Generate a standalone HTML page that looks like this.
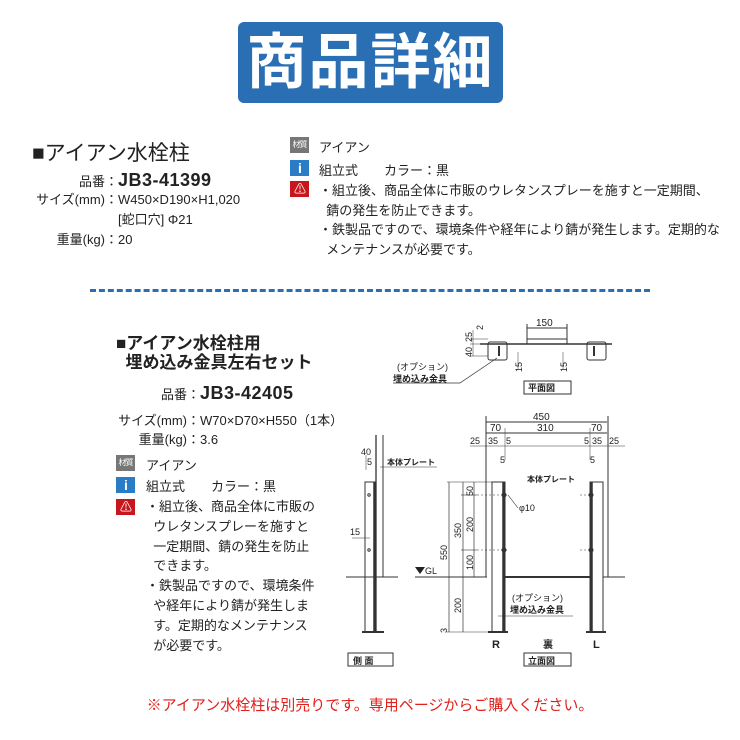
<!DOCTYPE html>
<html><head><meta charset="utf-8">
<style>
body{margin:0;width:740px;height:740px;background:#fff;position:relative;overflow:hidden;font-family:"Liberation Sans","Noto Sans CJK JP",sans-serif;color:#222}
.a{position:absolute;white-space:nowrap}
.t{font-size:13px}
.row{position:absolute;white-space:nowrap;font-size:13px;line-height:20px;height:20px}
.row .l{display:inline-block;text-align:right}
.big{font-size:18px;font-weight:bold;letter-spacing:.5px}
.ic{position:absolute;width:19px;height:16px;color:#fff;font-size:8px;text-align:center;line-height:16px;letter-spacing:-1px}
</style></head><body>
<div class="a" style="left:238px;top:22px;width:265px;height:81px;background:#2a6fb3;border-radius:6px;color:#fff;font-size:60px;font-weight:bold;text-align:center;line-height:81px;letter-spacing:2px">商品詳細</div>

<div class="a" style="left:32px;top:137px;font-size:21px">■アイアン水栓柱</div>
<div class="row" style="left:0;top:170px"><span class="l" style="width:118px">品番：</span><span class="big">JB3-41399</span></div>
<div class="row" style="left:0;top:190px"><span class="l" style="width:118px">サイズ(mm)：</span>W450×D190×H1,020</div>
<div class="row" style="left:0;top:210px"><span class="l" style="width:118px"></span>[蛇口穴] Φ21</div>
<div class="row" style="left:0;top:230px"><span class="l" style="width:118px">重量(kg)：</span>20</div>

<div class="ic" style="left:290px;top:137px;background:#777">材質</div>
<div class="a t" style="left:319px;top:137px">アイアン</div>
<div class="ic" style="left:290px;top:160px;background:#2a7cc7;font-size:14px;font-weight:bold">i</div>
<div class="a t" style="left:319px;top:160px">組立式　　カラー：黒</div>
<div class="ic" style="left:290px;top:181px;background:#c8161d;font-size:12px">⚠</div>
<div class="a t" style="left:319px;top:181px;line-height:19.5px">・組立後、商品全体に市販のウレタンスプレーを施すと一定期間、<br>&nbsp;&nbsp;錆の発生を防止できます。<br>・鉄製品ですので、環境条件や経年により錆が発生します。定期的な<br>&nbsp;&nbsp;メンテナンスが必要です。</div>

<div class="a" style="left:90px;top:289px;width:560px;border-top:3px dashed #2a6fb3"></div>

<div class="a" style="left:116px;top:334px;font-size:17px;font-weight:bold;line-height:19px">■アイアン水栓柱用<br>&nbsp;&nbsp;埋め込み金具左右セット</div>
<div class="row" style="left:0;top:383px"><span class="l" style="width:200px">品番：</span><span class="big">JB3-42405</span></div>
<div class="row" style="left:0;top:411px"><span class="l" style="width:200px">サイズ(mm)：</span>W70×D70×H550（1本）</div>
<div class="row" style="left:0;top:430px"><span class="l" style="width:200px">重量(kg)：</span>3.6</div>
<div class="ic" style="left:116px;top:455px;background:#777">材質</div>
<div class="a t" style="left:146px;top:455px">アイアン</div>
<div class="ic" style="left:116px;top:477px;background:#2a7cc7;font-size:14px;font-weight:bold">i</div>
<div class="a t" style="left:146px;top:476px">組立式　　カラー：黒</div>
<div class="ic" style="left:116px;top:499px;background:#c8161d;font-size:12px">⚠</div>
<div class="a t" style="left:146px;top:497px;line-height:19.8px">・組立後、商品全体に市販の<br>&nbsp;&nbsp;ウレタンスプレーを施すと<br>&nbsp;&nbsp;一定期間、錆の発生を防止<br>&nbsp;&nbsp;できます。<br>・鉄製品ですので、環境条件<br>&nbsp;&nbsp;や経年により錆が発生しま<br>&nbsp;&nbsp;す。定期的なメンテナンス<br>&nbsp;&nbsp;が必要です。</div>

<svg class="a" style="left:0;top:0" width="740" height="740" font-family="Liberation Sans,Noto Sans CJK JP,sans-serif" font-size="10" fill="#222">
<g stroke="#333" stroke-width="1" fill="none">
<line x1="480" y1="344" x2="612" y2="344" stroke-width="1.5"/>
<rect x="527" y="339" width="40" height="5"/>
<rect x="488" y="342" width="19" height="18" rx="2"/>
<rect x="587" y="342" width="19" height="18" rx="2"/>
<line x1="499" y1="346" x2="499" y2="356" stroke-width="2"/>
<line x1="594" y1="346" x2="594" y2="356" stroke-width="2"/>
<line x1="527" y1="328" x2="567" y2="328"/><line x1="527" y1="324" x2="527" y2="339"/><line x1="567" y1="324" x2="567" y2="339"/>
<line x1="470" y1="339" x2="488" y2="339" stroke-width=".5"/><line x1="470" y1="344" x2="488" y2="344" stroke-width=".5"/><line x1="470" y1="356" x2="488" y2="356" stroke-width=".5"/>
<line x1="473" y1="330" x2="473" y2="356" stroke-width=".5"/>
<line x1="518" y1="352" x2="518" y2="370" stroke-width=".5"/><line x1="563" y1="352" x2="563" y2="370" stroke-width=".5"/>
<polyline points="393,383 460,383 497,358" stroke-width=".7"/>
<rect x="524" y="381" width="47" height="13"/>
<line x1="486" y1="422" x2="607" y2="422"/><line x1="486" y1="433" x2="607" y2="433"/>
<line x1="486" y1="416" x2="486" y2="577"/><line x1="608" y1="416" x2="608" y2="577"/>
<line x1="505" y1="428" x2="505" y2="460" stroke-width=".5"/><line x1="590" y1="428" x2="590" y2="460" stroke-width=".5"/>
<line x1="470" y1="446" x2="625" y2="446" stroke-width=".5"/>
<line x1="376" y1="435" x2="376" y2="632" stroke-width="1.3"/><line x1="383" y1="435" x2="383" y2="577"/>
<rect x="365" y="482" width="10" height="150"/>
<line x1="374.5" y1="482" x2="374.5" y2="632" stroke-width="2.5"/>
<line x1="346" y1="577" x2="398" y2="577"/>
<line x1="362" y1="632" x2="384" y2="632" stroke-width="2"/>
<line x1="366" y1="455" x2="366" y2="470" stroke-width=".5"/>
<line x1="380" y1="467" x2="437" y2="467" stroke-width=".6"/>
<line x1="352" y1="538" x2="370" y2="538" stroke-width=".5"/>
<circle cx="369" cy="495" r="1.2"/><circle cx="369" cy="550" r="1.2"/>
<rect x="348" y="653" width="45" height="13"/>
<rect x="492" y="482" width="13" height="150"/><rect x="590" y="482" width="13" height="150"/>
<line x1="503.5" y1="482" x2="503.5" y2="632" stroke-width="2.5"/><line x1="591.5" y1="482" x2="591.5" y2="632" stroke-width="2.5"/>
<line x1="415" y1="577" x2="487" y2="577"/><line x1="505" y1="577" x2="590" y2="577" stroke-width="2"/><line x1="603" y1="577" x2="625" y2="577"/>
<line x1="488" y1="632" x2="508" y2="632" stroke-width="2"/><line x1="586" y1="632" x2="606" y2="632" stroke-width="2"/>
<line x1="449" y1="482" x2="449" y2="632" stroke-width=".7"/><line x1="463" y1="482" x2="463" y2="632" stroke-width=".7"/><line x1="474" y1="482" x2="474" y2="577" stroke-width=".7"/>
<g stroke-width=".6"><line x1="447" y1="482" x2="492" y2="482"/><line x1="461" y1="495" x2="477" y2="495"/><line x1="461" y1="550" x2="477" y2="550"/><line x1="447" y1="632" x2="492" y2="632"/><line x1="447" y1="577" x2="480" y2="577"/></g>
<g stroke-dasharray="2,2" stroke-width=".6"><line x1="477" y1="495" x2="507" y2="495"/><line x1="477" y1="550" x2="507" y2="550"/><line x1="580" y1="495" x2="593" y2="495"/><line x1="580" y1="550" x2="593" y2="550"/></g>
<circle cx="504" cy="495" r="2"/><circle cx="504" cy="550" r="2"/><circle cx="591" cy="495" r="2"/><circle cx="591" cy="550" r="2"/>
<line x1="508" y1="495" x2="518" y2="508" stroke-width=".6"/>
<line x1="498" y1="616" x2="573" y2="616" stroke-width=".6"/>
<rect x="524" y="653" width="47" height="13"/>
</g>
<polygon points="415,567 425,567 420,574" fill="#222"/>
<text x="536" y="326">150</text>
<g font-size="9"><text transform="translate(483,330) rotate(-90)">2</text><text transform="translate(472,342) rotate(-90)">25</text><text transform="translate(472,357) rotate(-90)">40</text>
<text transform="translate(522,372) rotate(-90)">15</text><text transform="translate(567,372) rotate(-90)">15</text></g>
<text x="397" y="370" font-size="9">(オプション)</text><text x="393" y="382" font-size="9" font-weight="bold">埋め込み金具</text>
<text x="528" y="391" font-size="9" font-weight="bold">平面図</text>
<text x="533" y="420">450</text>
<text x="490" y="431">70</text><text x="537" y="431">310</text><text x="591" y="431">70</text>
<text x="470" y="444" font-size="9">25</text><text x="488" y="444" font-size="9">35</text><text x="506" y="444" font-size="9">5</text>
<text x="584" y="444" font-size="9">5</text><text x="592" y="444" font-size="9">35</text><text x="609" y="444" font-size="9">25</text>
<text x="500" y="463" font-size="9">5</text><text x="590" y="463" font-size="9">5</text>
<text x="361" y="455" font-size="9">40</text><text x="367" y="465" font-size="9">5</text>
<text x="387" y="465" font-size="8" font-weight="bold">本体プレート</text>
<text x="527" y="482" font-size="8" font-weight="bold">本体プレート</text>
<text x="350" y="535" font-size="9">15</text>
<text x="353" y="664" font-size="9" font-weight="bold">側 面</text>
<text x="528" y="664" font-size="9" font-weight="bold">立面図</text>
<text x="425" y="574" font-size="9">GL</text>
<text x="519" y="511" font-size="9">φ10</text>
<g font-size="9"><text transform="translate(447,560) rotate(-90)">550</text><text transform="translate(461,538) rotate(-90)">350</text>
<text transform="translate(473,496) rotate(-90)">50</text><text transform="translate(473,532) rotate(-90)">200</text><text transform="translate(473,570) rotate(-90)">100</text>
<text transform="translate(461,613) rotate(-90)">200</text><text transform="translate(447,633) rotate(-90)">3</text></g>
<text x="512" y="601" font-size="9">(オプション)</text><text x="510" y="613" font-size="9" font-weight="bold">埋め込み金具</text>
<text x="492" y="648" font-size="11" font-weight="bold">R</text><text x="543" y="648" font-size="10" font-weight="bold">裏</text><text x="593" y="648" font-size="11" font-weight="bold">L</text>
</svg>

<div class="a" style="left:0;top:694px;width:740px;text-align:center;color:#e0201b;font-size:15px">※アイアン水栓柱は別売りです。専用ページからご購入ください。</div>
</body></html>
